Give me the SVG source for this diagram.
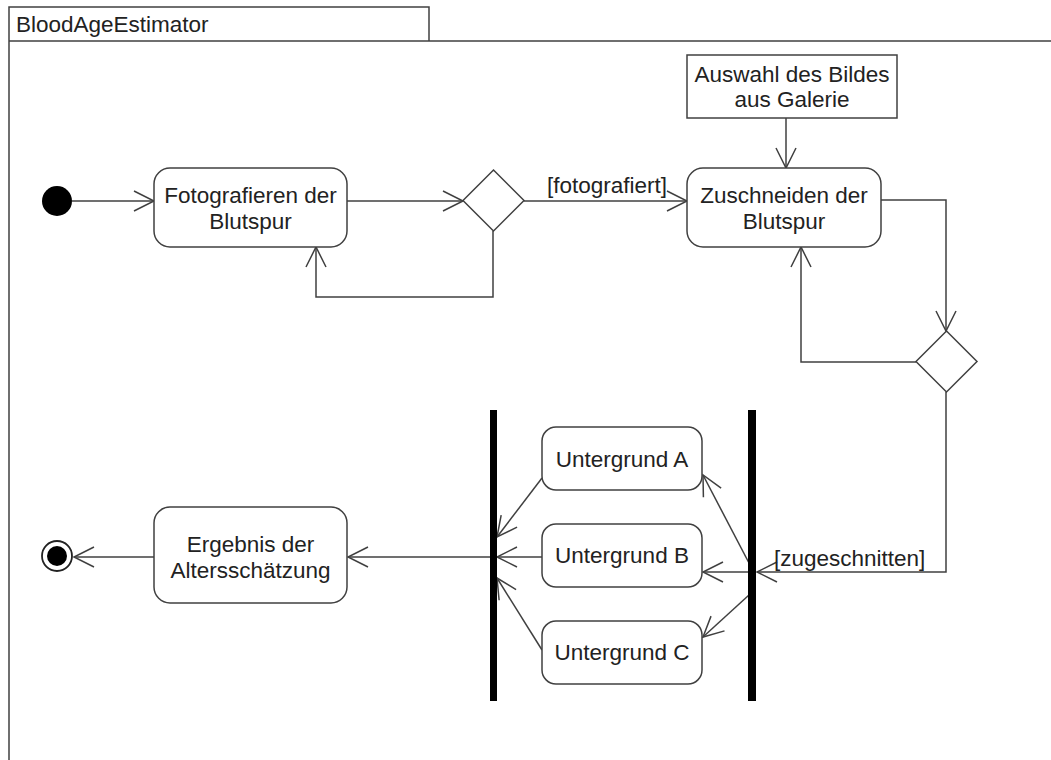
<svg xmlns="http://www.w3.org/2000/svg" width="1051" height="760" viewBox="0 0 1051 760">
<style>
.ln{fill:none;stroke:#404040;stroke-width:1.5}
.box{fill:#fff;stroke:#404040;stroke-width:1.5}
.t{font-family:"Liberation Sans",Arial,sans-serif;font-size:22.5px;fill:#222;text-anchor:middle}
.tl{font-family:"Liberation Sans",Arial,sans-serif;font-size:22.5px;fill:#222}
.bar{fill:#000}
</style>
<defs>
<marker id="arr" markerUnits="userSpaceOnUse" viewBox="-22 -12 24 24" markerWidth="24" markerHeight="24" refX="0" refY="0" orient="auto">
<path d="M-20,-10 L0,0 L-20,10" fill="none" stroke="#404040" stroke-width="1.5"/>
</marker>
</defs>
<rect width="1051" height="760" fill="#fff"/>
<g id="frame">
<path class="ln" d="M9,760 L9,7 L429,7 L429,41 M9,41 L1051,41"/>
<text class="tl" x="16" y="32">BloodAgeEstimator</text>
</g>
<g id="connectors">
<line class="ln" x1="72" y1="201" x2="154" y2="201" marker-end="url(#arr)"/>
<line class="ln" x1="347" y1="201" x2="463" y2="201" marker-end="url(#arr)"/>
<line class="ln" x1="524" y1="201" x2="687" y2="201" marker-end="url(#arr)"/>
<polyline class="ln" points="493,231 493,297 316,297 316,247" marker-end="url(#arr)"/>
<line class="ln" x1="786" y1="118" x2="786" y2="168" marker-end="url(#arr)"/>
<polyline class="ln" points="881,200 946,200 946,331" marker-end="url(#arr)"/>
<polyline class="ln" points="916,362 801,362 801,247" marker-end="url(#arr)"/>
<polyline class="ln" points="946,392 946,572 757,572" marker-end="url(#arr)"/>
<line class="ln" x1="749" y1="563" x2="703" y2="475" marker-end="url(#arr)"/>
<line class="ln" x1="749" y1="572" x2="703" y2="572" marker-end="url(#arr)"/>
<line class="ln" x1="749" y1="595" x2="703" y2="637" marker-end="url(#arr)"/>
<line class="ln" x1="542" y1="478" x2="497" y2="537" marker-end="url(#arr)"/>
<line class="ln" x1="542" y1="557" x2="497" y2="557" marker-end="url(#arr)"/>
<line class="ln" x1="542" y1="650" x2="497" y2="578" marker-end="url(#arr)"/>
<line class="ln" x1="490" y1="557" x2="348" y2="557" marker-end="url(#arr)"/>
<line class="ln" x1="154" y1="557" x2="74" y2="557" marker-end="url(#arr)"/>
<text class="tl" x="547" y="193">[fotografiert]</text>
<text class="tl" x="774" y="566">[zugeschnitten]</text>
</g>
<g id="start"><circle cx="57" cy="201" r="15" fill="#000"/></g>
<g id="fotografieren">
<rect class="box" x="154" y="168" width="193" height="79" rx="16"/>
<text class="t" x="250.5" y="203">Fotografieren der</text>
<text class="t" x="250.5" y="229">Blutspur</text>
</g>
<g id="decision1"><polygon class="box" points="493.5,170 524,200.5 493.5,231 463,200.5"/></g>
<g id="auswahl">
<rect class="box" x="687" y="55" width="210" height="63"/>
<text class="t" x="792" y="82">Auswahl des Bildes</text>
<text class="t" x="792" y="107">aus Galerie</text>
</g>
<g id="zuschneiden">
<rect class="box" x="687" y="168" width="194" height="79" rx="16"/>
<text class="t" x="784" y="203">Zuschneiden der</text>
<text class="t" x="784" y="229">Blutspur</text>
</g>
<g id="decision2"><polygon class="box" points="946.5,331 977,361.5 946.5,392 916,361.5"/></g>
<g id="fork"><rect class="bar" x="748" y="410" width="8" height="291"/></g>
<g id="join"><rect class="bar" x="490" y="410" width="7" height="291"/></g>
<g id="untergrundA">
<rect class="box" x="542" y="427" width="160" height="63" rx="14"/>
<text class="t" x="622" y="467">Untergrund A</text>
</g>
<g id="untergrundB">
<rect class="box" x="542" y="524" width="160" height="63" rx="14"/>
<text class="t" x="622" y="563">Untergrund B</text>
</g>
<g id="untergrundC">
<rect class="box" x="542" y="621" width="160" height="63" rx="14"/>
<text class="t" x="622" y="660">Untergrund C</text>
</g>
<g id="ergebnis">
<rect class="box" x="154" y="507" width="193" height="96" rx="16"/>
<text class="t" x="250.5" y="552">Ergebnis der</text>
<text class="t" x="250.5" y="578">Altersschätzung</text>
</g>
<g id="end">
<circle cx="57" cy="556" r="15" fill="#fff" stroke="#222" stroke-width="1.8"/>
<circle cx="57" cy="556" r="10" fill="#000"/>
</g>
</svg>
